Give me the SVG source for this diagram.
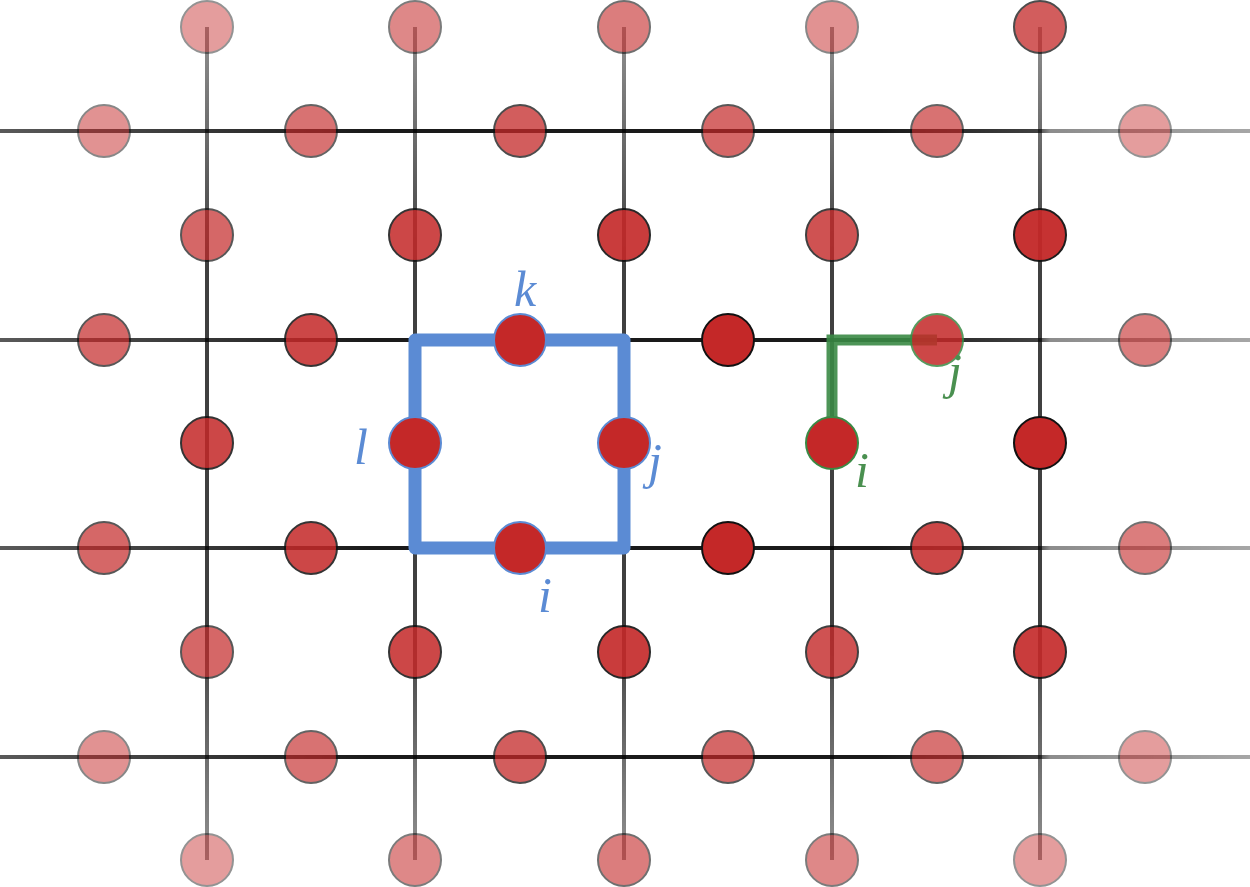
<svg xmlns="http://www.w3.org/2000/svg" width="1250" height="887" viewBox="0 0 1250 887">
<defs>
<linearGradient id="gh" gradientUnits="userSpaceOnUse" x1="0" y1="0" x2="1250" y2="0">
<stop offset="0" stop-color="#000" stop-opacity="0.65"/><stop offset="0.3" stop-color="#000" stop-opacity="0.9"/><stop offset="0.7" stop-color="#000" stop-opacity="0.9"/><stop offset="0.83" stop-color="#000" stop-opacity="0.75"/><stop offset="0.84" stop-color="#000" stop-opacity="0.45"/><stop offset="1" stop-color="#000" stop-opacity="0.35"/>
</linearGradient>
<linearGradient id="gv" gradientUnits="userSpaceOnUse" x1="0" y1="0" x2="0" y2="887">
<stop offset="0" stop-color="#000" stop-opacity="0.4"/><stop offset="0.3" stop-color="#000" stop-opacity="0.75"/><stop offset="0.7" stop-color="#000" stop-opacity="0.75"/><stop offset="1" stop-color="#000" stop-opacity="0.4"/>
</linearGradient>
</defs>
<style>
.h{stroke:url(#gh);stroke-width:4;fill:none}
.v{stroke:url(#gv);stroke-width:4;fill:none}
.n{fill:#c42828;stroke:#111;stroke-width:2}
.b{fill:#c42828;stroke:#5b8bd4;stroke-width:2}
.g{fill:#c42828;stroke:#3a8a45;stroke-width:2}
.t{font-family:"Liberation Serif",serif;font-style:italic;font-size:50px}
</style>
<rect width="1250" height="887" fill="#fff"/>
<g id="connectors">
<line class="h" x1="0" y1="131" x2="1250" y2="131"/>
<line class="h" x1="0" y1="340" x2="1250" y2="340"/>
<line class="h" x1="0" y1="548" x2="1250" y2="548"/>
<line class="h" x1="0" y1="757" x2="1250" y2="757"/>
<line class="v" x1="207" y1="27" x2="207" y2="860"/>
<line class="v" x1="415" y1="27" x2="415" y2="860"/>
<line class="v" x1="624" y1="27" x2="624" y2="860"/>
<line class="v" x1="832" y1="27" x2="832" y2="860"/>
<line class="v" x1="1040" y1="27" x2="1040" y2="860"/>
<rect x="415" y="340" width="209" height="208" fill="none" stroke="#5b8bd4" stroke-width="13" stroke-linejoin="round"/>
<polyline points="832,425 832,340 937,340" fill="none" stroke="#3a8a45" stroke-opacity="0.9" stroke-width="11"/>
</g>
<g id="nodes">
<g id="r0"><circle class="n" cx="207" cy="27" r="26" opacity="0.45"/><circle class="n" cx="415" cy="27" r="26" opacity="0.55"/><circle class="n" cx="624" cy="27" r="26" opacity="0.6"/><circle class="n" cx="832" cy="27" r="26" opacity="0.5"/><circle class="n" cx="1040" cy="27" r="26" opacity="0.75"/></g>
<g id="r1"><circle class="n" cx="104" cy="131" r="26" opacity="0.5"/><circle class="n" cx="311" cy="131" r="26" opacity="0.65"/><circle class="n" cx="520" cy="131" r="26" opacity="0.75"/><circle class="n" cx="728" cy="131" r="26" opacity="0.7"/><circle class="n" cx="937" cy="131" r="26" opacity="0.65"/><circle class="n" cx="1145" cy="131" r="26" opacity="0.45"/></g>
<g id="r2"><circle class="n" cx="207" cy="235" r="26" opacity="0.7"/><circle class="n" cx="415" cy="235" r="26" opacity="0.85"/><circle class="n" cx="624" cy="235" r="26" opacity="0.9"/><circle class="n" cx="832" cy="235" r="26" opacity="0.8"/><circle class="n" cx="1040" cy="235" r="26" opacity="0.95"/></g>
<g id="r3"><circle class="n" cx="104" cy="340" r="26" opacity="0.7"/><circle class="n" cx="311" cy="340" r="26" opacity="0.85"/><circle class="b" cx="520" cy="340" r="26"/><circle class="n" cx="728" cy="340" r="26"/><circle class="g" cx="937" cy="340" r="26" opacity="0.85"/><circle class="n" cx="1145" cy="340" r="26" opacity="0.6"/></g>
<g id="r4"><circle class="n" cx="207" cy="443" r="26" opacity="0.85"/><circle class="b" cx="415" cy="443" r="26"/><circle class="b" cx="624" cy="443" r="26"/><circle class="g" cx="832" cy="443" r="26"/><circle class="n" cx="1040" cy="443" r="26"/></g>
<g id="r5"><circle class="n" cx="104" cy="548" r="26" opacity="0.7"/><circle class="n" cx="311" cy="548" r="26" opacity="0.85"/><circle class="b" cx="520" cy="548" r="26"/><circle class="n" cx="728" cy="548" r="26"/><circle class="n" cx="937" cy="548" r="26" opacity="0.85"/><circle class="n" cx="1145" cy="548" r="26" opacity="0.6"/></g>
<g id="r6"><circle class="n" cx="207" cy="652" r="26" opacity="0.7"/><circle class="n" cx="415" cy="652" r="26" opacity="0.85"/><circle class="n" cx="624" cy="652" r="26" opacity="0.9"/><circle class="n" cx="832" cy="652" r="26" opacity="0.8"/><circle class="n" cx="1040" cy="652" r="26" opacity="0.9"/></g>
<g id="r7"><circle class="n" cx="104" cy="757" r="26" opacity="0.5"/><circle class="n" cx="311" cy="757" r="26" opacity="0.65"/><circle class="n" cx="520" cy="757" r="26" opacity="0.75"/><circle class="n" cx="728" cy="757" r="26" opacity="0.7"/><circle class="n" cx="937" cy="757" r="26" opacity="0.65"/><circle class="n" cx="1145" cy="757" r="26" opacity="0.45"/></g>
<g id="r8"><circle class="n" cx="207" cy="860" r="26" opacity="0.45"/><circle class="n" cx="415" cy="860" r="26" opacity="0.55"/><circle class="n" cx="624" cy="860" r="26" opacity="0.6"/><circle class="n" cx="832" cy="860" r="26" opacity="0.55"/><circle class="n" cx="1040" cy="860" r="26" opacity="0.45"/></g>
</g>
<g id="labels">
<text class="t" x="514" y="306" fill="#5b8bd4">k</text>
<text class="t" x="354" y="464" fill="#5b8bd4">l</text>
<text class="t" x="648" y="478" fill="#5b8bd4">j</text>
<text class="t" x="538" y="612" fill="#5b8bd4">i</text>
<text class="t" x="948" y="388" fill="#4a9050">j</text>
<text class="t" x="855" y="487" fill="#4a9050">i</text>
</g>
</svg>
